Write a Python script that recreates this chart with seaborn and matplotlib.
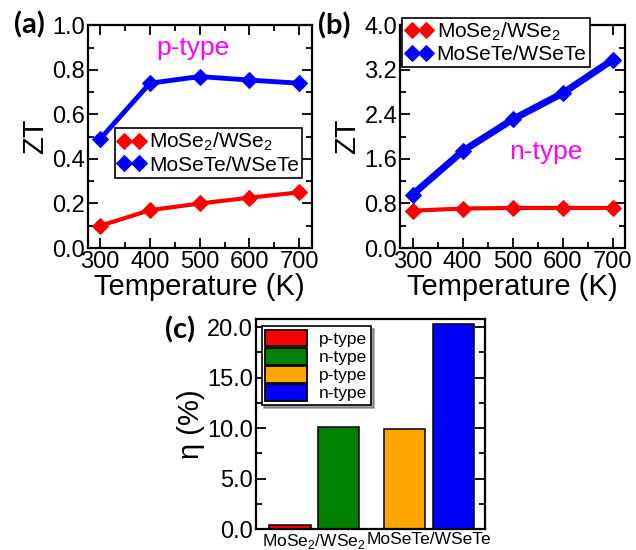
import pandas as pd
import seaborn as sns
import matplotlib.pyplot as plt
from matplotlib.patches import Patch
from matplotlib.ticker import MultipleLocator

# Data
temps = [300, 400, 500, 600, 700]
zt_p_mose2 = [0.10, 0.17, 0.20, 0.226, 0.25]
zt_p_mosete = [0.49, 0.74, 0.77, 0.754, 0.74]
zt_n_mose2 = [0.67, 0.71, 0.72, 0.72, 0.72]
zt_n_mosete = [0.96, 1.74, 2.31, 2.78, 3.38]

eff_labels = ['p-type', 'n-type', 'p-type', 'n-type']
eff_values = [0.42, 10.1, 9.9, 20.3]
eff_colors = ['red', 'green', 'orange', 'blue']
bar_pos = [0, 1, 2.36, 3.37]
systems = ['MoSe$_2$/WSe$_2$', 'MoSeTe/WSeTe']

sns.set_style("ticks")
plt.rcParams['font.family'] = ['Liberation Sans', 'DejaVu Sans']
plt.rcParams['mathtext.fontset'] = 'custom'
plt.rcParams['mathtext.rm'] = 'Liberation Sans'
plt.rcParams['axes.linewidth'] = 1.6
for key in ['text.color', 'axes.labelcolor', 'xtick.color', 'ytick.color',
            'axes.edgecolor']:
    plt.rcParams[key] = 'black'

fig = plt.figure(figsize=(6.36, 5.5), dpi=100)
ax_a = fig.add_axes([0.138, 0.549, 0.352, 0.405])
ax_b = fig.add_axes([0.629, 0.549, 0.354, 0.405])
ax_c = fig.add_axes([0.4025, 0.038, 0.36, 0.382])


def style_axes(ax):
    ax.tick_params(which='both', direction='in', top=True, right=True,
                   labelsize=17, width=1.3, pad=2)
    ax.tick_params(which='major', length=7)
    ax.tick_params(which='minor', length=4)


def zt_panel(ax, red, blue, lw_red, lw_blue):
    df = pd.DataFrame({'T': temps * 2, 'ZT': red + blue,
                       'sys': [systems[0]] * 5 + [systems[1]] * 5})
    sns.lineplot(data=df[df.sys == systems[0]], x='T', y='ZT', color='red',
                 marker='D', markersize=8, markeredgecolor='red', lw=lw_red,
                 ax=ax, label=systems[0])
    sns.lineplot(data=df[df.sys == systems[1]], x='T', y='ZT', color='blue',
                 marker='D', markersize=8, markeredgecolor='blue', lw=lw_blue,
                 ax=ax, label=systems[1])
    ax.set_xlim(275, 725)
    ax.xaxis.set_major_locator(MultipleLocator(100))
    ax.xaxis.set_minor_locator(MultipleLocator(50))
    ax.set_xlabel('Temperature (K)', fontsize=21, labelpad=0)
    ax.set_ylabel('ZT', fontsize=21, labelpad=2)
    style_axes(ax)


def line_legend(ax, anchor):
    leg = ax.legend(loc='upper left', bbox_to_anchor=anchor, fontsize=15,
                    numpoints=2, handlelength=1.3, handletextpad=0.2,
                    borderpad=0.15, labelspacing=0.1, borderaxespad=0,
                    fancybox=False, edgecolor='black', framealpha=1)
    leg.get_frame().set_linewidth(1.2)
    for h in leg.legend_handles:
        h.set_linestyle('none')


# (a) p-type
zt_panel(ax_a, zt_p_mose2, zt_p_mosete, 3, 3.5)
ax_a.set_ylim(0, 1.0)
ax_a.yaxis.set_major_locator(MultipleLocator(0.2))
ax_a.yaxis.set_minor_locator(MultipleLocator(0.1))
ax_a.yaxis.set_major_formatter('{x:.1f}')
ax_a.text(0.47, 0.9, 'p-type', color='magenta', fontsize=19,
          ha='center', va='center', transform=ax_a.transAxes)
line_legend(ax_a, (0.12, 0.54))

# (b) n-type
zt_panel(ax_b, zt_n_mose2, zt_n_mosete, 3, 5)
ax_b.set_ylim(0, 4.0)
ax_b.yaxis.set_major_locator(MultipleLocator(0.8))
ax_b.yaxis.set_minor_locator(MultipleLocator(0.4))
ax_b.yaxis.set_major_formatter('{x:.1f}')
ax_b.text(0.65, 0.43, 'n-type', color='magenta', fontsize=19,
          ha='center', va='center', transform=ax_b.transAxes)
line_legend(ax_b, (0.01, 1.035))

# (c) efficiency bars
df_c = pd.DataFrame({'pos': bar_pos, 'eta': eff_values,
                     'key': [str(i) for i in range(4)]})
sns.barplot(data=df_c, x='pos', y='eta', hue='key', native_scale=True,
            palette=dict(zip(df_c.key, eff_colors)), dodge=False, width=0.85,
            saturation=1, edgecolor='black', linewidth=1.1, legend=False, ax=ax_c)
ax_c.set_xlim(-0.7, 4.02)
ax_c.set_ylim(0, 20.8)
ax_c.yaxis.set_major_locator(MultipleLocator(5))
ax_c.yaxis.set_minor_locator(MultipleLocator(2.5))
ax_c.yaxis.set_major_formatter('{x:.1f}')
ax_c.set_xticks([(bar_pos[0] + bar_pos[1]) / 2, (bar_pos[2] + bar_pos[3]) / 2])
ax_c.set_xticklabels(systems)
ax_c.set_xlabel('')
ax_c.set_ylabel('η (%)', fontsize=21, labelpad=2)
style_axes(ax_c)
ax_c.tick_params(axis='x', which='both', length=0, labelsize=12.5, pad=2,
                 top=False)
handles = [Patch(facecolor=c, edgecolor='black', linewidth=1.3) for c in eff_colors]
leg = ax_c.legend(handles, eff_labels, loc='upper left', fontsize=12.5,
                  bbox_to_anchor=(0.025, 0.965), handlelength=2.4,
                  handleheight=1.1, handletextpad=0.7, borderpad=0.2,
                  labelspacing=0.05, borderaxespad=0, fancybox=False,
                  edgecolor='black', framealpha=1, shadow=True)
leg.get_frame().set_linewidth(1.2)

# panel labels
for x, y, lab in [(0.047, 0.955, '(a)'), (0.525, 0.953, '(b)'), (0.283, 0.4, '(c)')]:
    fig.text(x, y, lab, fontsize=21, fontweight='bold', family=['Lato', 'DejaVu Sans'],
             ha='center', va='center')

fig.savefig('out.png', dpi=100)
